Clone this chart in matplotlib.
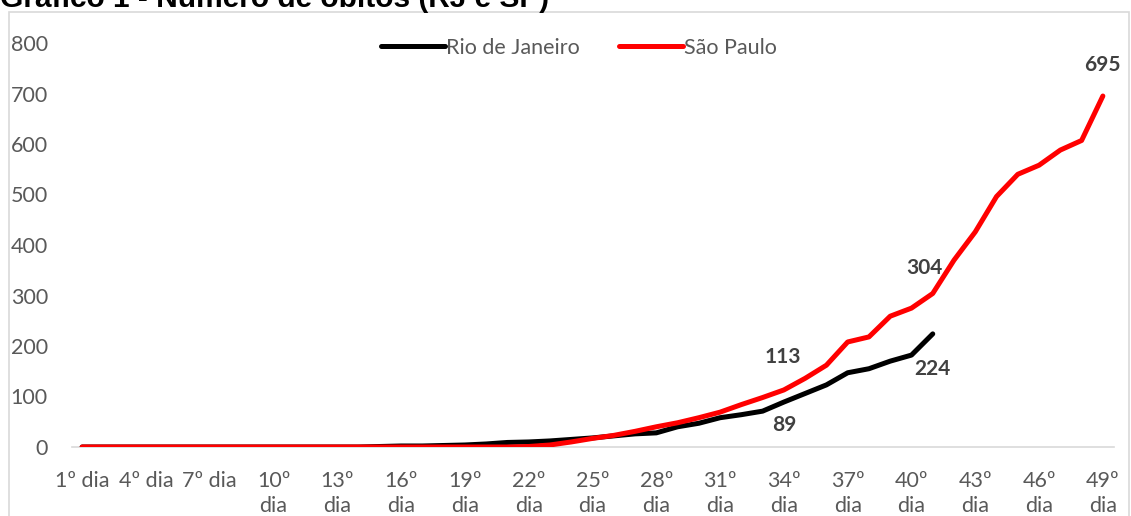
import matplotlib.pyplot as plt
from matplotlib.patches import Rectangle

# deaths per day since first case in each state
days = ["1º dia", "2º dia", "3º dia", "4º dia", "5º dia", "6º dia", "7º dia",
        "8º dia", "9º dia", "10º dia", "11º dia", "12º dia", "13º dia", "14º dia",
        "15º dia", "16º dia", "17º dia", "18º dia", "19º dia", "20º dia", "21º dia",
        "22º dia", "23º dia", "24º dia", "25º dia", "26º dia", "27º dia", "28º dia",
        "29º dia", "30º dia", "31º dia", "32º dia", "33º dia", "34º dia", "35º dia",
        "36º dia", "37º dia", "38º dia", "39º dia", "40º dia", "41º dia", "42º dia",
        "43º dia", "44º dia", "45º dia", "46º dia", "47º dia", "48º dia", "49º dia"]

rio = [0, 0, 0, 0, 0, 0, 0, 0, 0, 0, 0, 0, 0, 0,
       1, 2, 2, 3, 4, 6, 9, 10, 12, 15, 18, 22, 26, 28, 40, 47, 58, 64, 71,
       89, 106, 123, 147, 155, 170, 182, 224]

sao_paulo = [0, 0, 0, 0, 0, 0, 0, 0, 0, 0, 0, 0, 0, 0, 0, 0, 0, 0, 0, 0, 0,
             1, 4, 10, 17, 23, 31, 40, 48, 58, 69, 84, 98, 113, 136, 162, 208,
             218, 259, 275, 304, 370, 426, 496, 540, 558, 588, 607, 695]

# (day number, x offset px, y offset px) for value labels
labels_rio = [(34, 0, -23), (41, 0, -35)]
labels_sp = [(34, -1, 33), (41, -8, 25), (49, 0, 31)]

plt.rcParams['font.family'] = ['Lato', 'DejaVu Sans']

fig = plt.figure(figsize=(11.31, 5.16), dpi=100)
W, H = 1131, 516

# outer chart frame
fig.patches.append(Rectangle((9 / W, -0.05), (1129 - 9) / W, 1.05 - 12 / H,
                             transform=fig.transFigure, fill=False,
                             edgecolor='#d9d9d9', linewidth=1.2))
fig.text(0, 1 - 7 / H, "Gráfico 1 - Número de óbitos (RJ e SP)",
         fontsize=21.5, fontweight='bold', family='Liberation Sans',
         ha='left', va='baseline', color='#000000')

ax = fig.add_axes([71.5 / W, 1 - 447 / H, (1113.5 - 71.5) / W, (447 - 43) / H])

x_rio = list(range(1, len(rio) + 1))
x_sp = list(range(1, len(sao_paulo) + 1))
ax.plot(x_rio, rio, color='black', linewidth=3.6, solid_capstyle='round',
        solid_joinstyle='round', label='Rio de Janeiro', zorder=3)
ax.plot(x_sp, sao_paulo, color='#ff0000', linewidth=3.6, solid_capstyle='round',
        solid_joinstyle='round', label='São Paulo', zorder=4)

for d, dx, dy in labels_rio:
    ax.annotate(str(rio[d - 1]), (d, rio[d - 1]), xytext=(dx, dy),
                textcoords='offset pixels', ha='center', va='center',
                fontsize=15, fontweight='bold', color='#404040')
for d, dx, dy in labels_sp:
    ax.annotate(str(sao_paulo[d - 1]), (d, sao_paulo[d - 1]), xytext=(dx, dy),
                textcoords='offset pixels', ha='center', va='center',
                fontsize=15, fontweight='bold', color='#404040')

ax.set_xlim(0.5, 49.5)
ax.set_ylim(0, 800)
ax.set_yticks(range(0, 801, 100))
ax.set_xticks(range(1, 50, 3))
ax.set_xticklabels([days[i - 1] if i < 10 else days[i - 1].replace(' ', '\n')
                    for i in range(1, 50, 3)], linespacing=1.35, va='top')

for s in ['top', 'right', 'left']:
    ax.spines[s].set_visible(False)
ax.spines['bottom'].set_color('#d9d9d9')
ax.spines['bottom'].set_linewidth(1.2)
ax.tick_params(length=0, colors='#595959', labelsize=15.5)
ax.tick_params(axis='y', pad=17)
ax.tick_params(axis='x', pad=17)

ax.legend(loc='center', bbox_to_anchor=(0.487, 0.988), ncol=2, frameon=False,
          fontsize=15.5, handlelength=3.0, handletextpad=0.05, columnspacing=1.8,
          labelcolor='#595959')

fig.savefig('out.png', dpi=100)
